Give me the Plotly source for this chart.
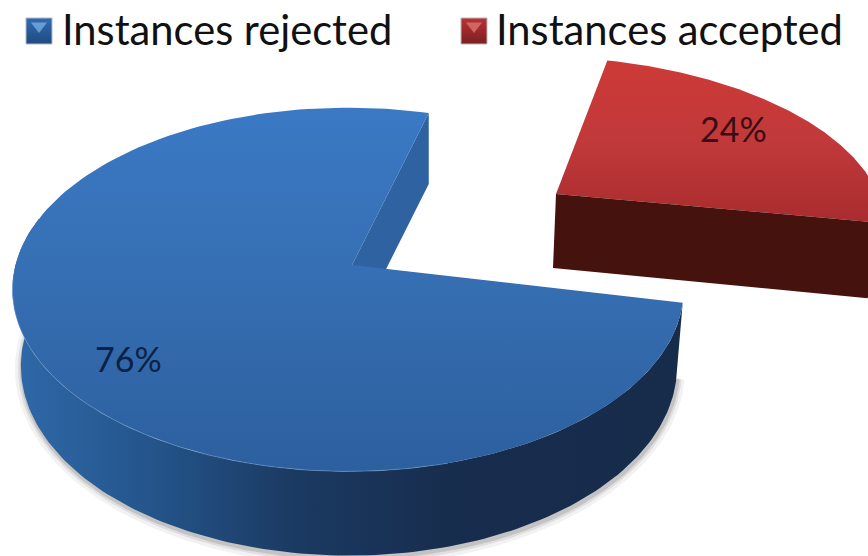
import numpy as np
import plotly.graph_objects as go

categories = ["Instances rejected", "Instances accepted"]
values = [76, 24]

W, H = 868, 556
FONT = "Lato"
sweep = 360 * values[1] / sum(values)
START = -12.5


def rim(cx, cy, ax, ay, k, t0, t1, n=160, shear=0.0):
    t = np.radians(np.linspace(t0, t1, n))
    w = 1 / (1 + k * np.sin(t))
    dy = -ay * np.sin(t) * w
    return cx + ax * np.cos(t) * w + shear * dy, cy + dy


def vgrad(stops, a, b):
    return dict(type="vertical", start=a, stop=b, colorscale=stops)


def hgrad(stops, a, b):
    return dict(type="horizontal", start=a, stop=b, colorscale=stops)


fig = go.Figure()


def poly(x, y, color=None, grad=None):
    fig.add_trace(go.Scatter(
        x=list(x), y=list(y), mode="lines", fill="toself", line=dict(width=0),
        fillcolor=color, fillgradient=grad, hoverinfo="skip", showlegend=False))


# blue slice (76 %)
APEX = (352, 265)
TOP = dict(cx=348, cy=263, ax=332, ay=178, k=0.146)
BOT = dict(cx=349, cy=340, ax=325, ay=186, k=0.137)
blue_a0, blue_a1 = START + sweep, START + 360

# soft shadow below the wall
for grow, alpha in [(7, 0.05), (4, 0.08), (2, 0.12)]:
    sx, sy = rim(BOT["cx"] + 1, BOT["cy"] + 2, BOT["ax"] + grow, BOT["ay"] + grow, BOT["k"], 175, 349)
    poly(np.r_[sx, sx[0]], np.r_[sy, sy[0]], color=f"rgba(0,0,0,{alpha})")

# outer wall
tx, ty = rim(**TOP, t0=165, t1=blue_a1)
bx, by = rim(**BOT, t0=165, t1=blue_a1)
poly(np.r_[tx, bx[::-1]], np.r_[ty, by[::-1]],
     grad=hgrad([[0, "#2f69a8"], [0.2, "#24558c"], [0.42, "#1b3a62"], [0.65, "#172d4e"], [1, "#172c4b"]], 15, 680))

# cut wall at the back of the gap
ex, ey = rim(**TOP, t0=blue_a0, t1=blue_a0, n=1)
poly([ex[0], ex[0], APEX[0], APEX[0]], [ey[0], ey[0] + 71, APEX[1] + 72, APEX[1]], color="#2f62a0")

# top face
fx, fy = rim(**TOP, t0=blue_a0, t1=blue_a1)
poly(np.r_[APEX[0], fx, APEX[0]], np.r_[APEX[1], fy, APEX[1]],
     grad=vgrad([[0, "#3b79c5"], [0.45, "#366fb3"], [1, "#2c5f9e"]], 108, 475))

# light highlight along the front rim
hx, hy = rim(**TOP, t0=185, t1=285)
fig.add_trace(go.Scatter(x=hx, y=hy, mode="lines", line=dict(width=1, color="rgba(130,175,225,0.45)"),
                         hoverinfo="skip", showlegend=False))

# red slice (24 %)
RED = dict(cx=556, cy=194, ax=322, ay=156, k=0.137, shear=0.134)
RSTART = -10.5
rx, ry = rim(**RED, t0=RSTART, t1=RSTART + sweep)
poly(np.r_[RED["cx"], rx, RED["cx"]], np.r_[RED["cy"], ry, RED["cy"]],
     grad=vgrad([[0, "#cc3a36"], [0.5, "#c1393a"], [1, "#a92c2e"]], 60, 222))
poly([RED["cx"], RED["cx"] - 3, rx[0] - 17, rx[0]],
     [RED["cy"], RED["cy"] + 74, ry[0] + 75, ry[0]], color="#46120e")

# legend swatches and labels
legend_marks = [("#2f6cb4", "#8fc4f0", 39, 60), ("#b93234", "#f08a86", 474, 494)]
for name, (col, light, mx, tx0) in zip(categories, legend_marks):
    fig.add_trace(go.Scatter(
        x=[mx], y=[31], mode="markers", name=name, showlegend=False, hoverinfo="skip",
        marker=dict(symbol="square", size=26, color=col, line=dict(width=1, color="#b9b9b9"),
                    gradient=dict(type="vertical", color="#1f4a80" if col == "#2f6cb4" else "#7c1f20"))))
    fig.add_trace(go.Scatter(
        x=[mx], y=[26], mode="markers", showlegend=False, hoverinfo="skip",
        marker=dict(symbol="triangle-down", size=14, color=light, opacity=0.6)))
    fig.add_annotation(x=tx0, y=29, text=name, showarrow=False, xanchor="left", yanchor="middle",
                       font=dict(family=FONT, size=41.7, color="#111111"))

fig.add_annotation(x=128, y=358, text=f"{values[0]}%", showarrow=False,
                   font=dict(family=FONT, size=34, color="#0b2146"))
fig.add_annotation(x=733, y=128, text=f"{values[1]}%", showarrow=False,
                   font=dict(family=FONT, size=34, color="#3a0d12"))

fig.update_layout(
    width=W, height=H, margin=dict(l=0, r=0, t=0, b=0),
    paper_bgcolor="white", plot_bgcolor="white", showlegend=False,
    xaxis=dict(range=[0, W], visible=False, fixedrange=True),
    yaxis=dict(range=[H, 0], visible=False, fixedrange=True),
)
fig.write_html("out.html", config=dict(displayModeBar=False),
               post_script="document.body.style.margin='0';document.documentElement.style.overflow='hidden';")
